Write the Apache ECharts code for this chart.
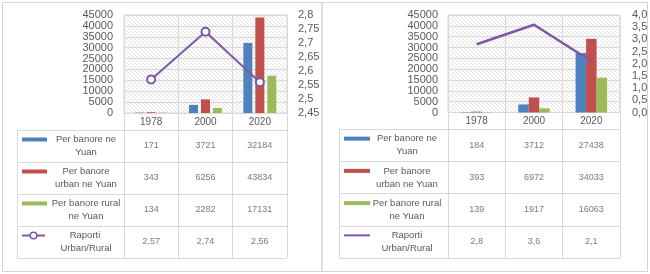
<!DOCTYPE html>
<html><head><meta charset="utf-8">
<script src="https://cdn.jsdelivr.net/npm/echarts@6/dist/echarts.min.js"></script>
<style>html,body{margin:0;padding:0;background:#fff}#c{width:650px;height:274px}</style>
</head><body><div id="c"></div>
<script>
// ---- data ----
const categories = ['1978', '2000', '2020'];
const rowLabels = ['Per banore ne\nYuan', 'Per banore\nurban ne Yuan', 'Per banore rural\nne Yuan', 'Raporti\nUrban/Rural'];

// left chart
const perCapitaA = [171, 3721, 32184];
const urbanA = [343, 6256, 43834];
const ruralA = [134, 2282, 17131];
const ratioA = [2.57, 2.74, 2.56];

// right chart
const perCapitaB = [184, 3712, 27438];
const urbanB = [393, 6972, 34033];
const ruralB = [139, 1917, 16063];
const ratioB = [2.8, 3.6, 2.1];

// axis tick ranges [min, max, interval]
const incomeTicks = [0, 45000, 5000];
const ratioTicksA = [2.45, 2.8, 0.05];
const ratioTicksB = [0, 4, 0.5];

// ---- styles ----
const BLUE = '#4f81bd', RED = '#c0504d', GREEN = '#9bbb59', PURPLE = '#7b59a8';
const LINE = '#d9d9d9', TXT = '#595959', FF = 'Liberation Sans, Arial, sans-serif';

const pc = document.createElement('canvas'); pc.width = 4; pc.height = 4;
const ctx = pc.getContext('2d');
ctx.fillStyle = '#ffffff'; ctx.fillRect(0, 0, 4, 4);
ctx.fillStyle = '#e3e3e3'; for (let i = 0; i < 4; i++) ctx.fillRect(i, i, 1, 1);

function fmtComma(v, dec) { return parseFloat(v.toFixed(dec)).toString().replace('.', ','); }

const grid = [], xAxis = [], yAxis = [], series = [];

function build(c) {
  const g0 = grid.length, x0 = xAxis.length, y0 = yAxis.length;
  grid.push({left: c.left, top: c.top, width: c.w, height: c.h, show: true,
    backgroundColor: {image: pc, repeat: 'repeat'}, borderColor: LINE, borderWidth: 1,
    outerBoundsMode: 'none', containLabel: false});
  grid.push({left: c.left, top: c.tTop, width: c.w, height: c.tH, show: false,
    outerBoundsMode: 'none', containLabel: false});

  xAxis.push({gridIndex: g0, type: 'category', data: categories,
    axisLine: {show: true, lineStyle: {color: LINE}},
    axisTick: {show: true, length: c.tTop - c.top - c.h, lineStyle: {color: LINE}},
    splitLine: {show: true, lineStyle: {color: LINE}},
    axisLabel: {color: TXT, fontSize: 10, margin: 4, fontFamily: FF, interval: 0}});
  xAxis.push({gridIndex: g0 + 1, type: 'category', data: categories,
    axisLine: {show: false}, axisTick: {show: false}, axisLabel: {show: false},
    splitLine: {show: true, lineStyle: {color: LINE}}});

  yAxis.push({gridIndex: g0, type: 'value', min: incomeTicks[0], max: incomeTicks[1], interval: incomeTicks[2],
    position: 'left', axisLine: {show: false}, axisTick: {show: false},
    splitLine: {show: true, lineStyle: {color: LINE}},
    axisLabel: {color: TXT, fontSize: 11, margin: c.lm, fontFamily: FF, lineHeight: 8,
      showMinLabel: true, showMaxLabel: true, hideOverlap: false,
      formatter: v => String(Math.round(v))}});
  yAxis.push({gridIndex: g0, type: 'value', min: c.rt[0], max: c.rt[1], interval: c.rt[2],
    position: 'right', axisLine: {show: false}, axisTick: {show: false}, splitLine: {show: false},
    axisLabel: {color: TXT, fontSize: 11, margin: c.rm, fontFamily: FF, lineHeight: 8,
      showMinLabel: true, showMaxLabel: true, hideOverlap: false,
      formatter: v => c.rdec === 1 ? v.toFixed(1).replace('.', ',') : fmtComma(v, 2)}});

  const rich = {
    i0: {width: c.iw, height: 4, backgroundColor: BLUE},
    i1: {width: c.iw, height: 4, backgroundColor: RED},
    i2: {width: c.iw, height: 4, backgroundColor: GREEN},
    l: {width: 9, height: 2, backgroundColor: PURPLE},
    cc: {width: 5, height: 5, borderColor: PURPLE, borderWidth: 1.5, borderRadius: 5, backgroundColor: '#fff'},
    lr: {width: c.iw, height: 2, backgroundColor: PURPLE},
    sp: {width: c.iw},
    g: {width: c.gap},
    t: {width: c.tw, align: 'center', fontSize: 9.5, lineHeight: 13, color: TXT, fontFamily: FF}
  };
  yAxis.push({gridIndex: g0 + 1, type: 'category', data: rowLabels, inverse: true, position: 'left',
    axisLine: {show: true, lineStyle: {color: LINE}},
    axisTick: {show: true, length: c.rowTick, lineStyle: {color: LINE}},
    splitLine: {show: true, lineStyle: {color: LINE}},
    axisLabel: {interval: 0, margin: c.left - c.iconX, align: 'left', rich: rich,
      formatter: (val, idx) => {
        const parts = val.split('\n');
        let icon;
        if (idx < 3) icon = '{i' + idx + '|}';
        else icon = c.marker ? '{l|}{cc|}{l|}' : '{lr|}';
        return icon + '{g|}{t|' + parts[0] + '}\n{sp|}{g|}{t|' + parts[1] + '}';
      }}});
  yAxis.push({gridIndex: g0 + 1, type: 'category', data: rowLabels, inverse: true, position: 'left',
    offset: c.rowTick, axisLine: {show: true, lineStyle: {color: LINE}},
    axisTick: {show: false}, axisLabel: {show: false}, splitLine: {show: false}});

  const bars = [[c.d[0], BLUE], [c.d[1], RED], [c.d[2], GREEN]];
  bars.forEach(([d, col]) => series.push({type: 'bar', xAxisIndex: x0, yAxisIndex: y0, data: d,
    barWidth: c.bw, barGap: c.bg, itemStyle: {color: col}, silent: true}));
  series.push({type: 'line', xAxisIndex: x0, yAxisIndex: y0 + 1, data: c.d[3],
    symbol: c.marker ? 'emptyCircle' : 'none', symbolSize: 8, z: 5,
    lineStyle: {color: PURPLE, width: c.lw}, itemStyle: {color: PURPLE, borderColor: PURPLE, borderWidth: 2}, silent: true});

  const cells = [];
  c.d.forEach((arr, ri) => arr.forEach((v, ci) => cells.push([ci, ri, v])));
  series.push({type: 'scatter', xAxisIndex: x0 + 1, yAxisIndex: y0 + 2, data: cells, symbolSize: 1,
    itemStyle: {color: 'rgba(0,0,0,0)'}, silent: true,
    label: {show: true, position: 'inside', color: TXT, fontSize: 9, fontFamily: FF,
      formatter: p => p.value[1] === 3 ? String(p.value[2]).replace('.', ',') : String(p.value[2])}});
}

build({left: 124, top: 15, w: 163, h: 98, tTop: 130, tH: 128, rowTick: 107, iconX: 22, iw: 25, gap: 3, tw: 72,
  lm: 11, rm: 11, rt: ratioTicksA, rdec: 2, bw: 9, bg: '33%', lw: 2, marker: true,
  d: [perCapitaA, urbanA, ruralA, ratioA]});
build({left: 448, top: 15, w: 172, h: 97.5, tTop: 129, tH: 129, rowTick: 109, iconX: 344, iw: 26, gap: 2, tw: 70,
  lm: 10, rm: 12, rt: ratioTicksB, rdec: 1, bw: 10.5, bg: '0%', lw: 2.5, marker: false,
  d: [perCapitaB, urbanB, ruralB, ratioB]});

const chart = echarts.init(document.getElementById('c'), null, {renderer: 'canvas'});
chart.setOption({
  animation: false,
  backgroundColor: '#fff',
  textStyle: {fontFamily: FF},
  grid, xAxis, yAxis, series,
  graphic: [
    {type: 'rect', silent: true, shape: {x: 2.5, y: 2.5, width: 319.5, height: 269}, style: {fill: 'none', stroke: '#d4d4d4', lineWidth: 1}},
    {type: 'rect', silent: true, shape: {x: 322, y: 2.5, width: 325.5, height: 269}, style: {fill: 'none', stroke: '#d4d4d4', lineWidth: 1}}
  ]
});
</script>
</body></html>
